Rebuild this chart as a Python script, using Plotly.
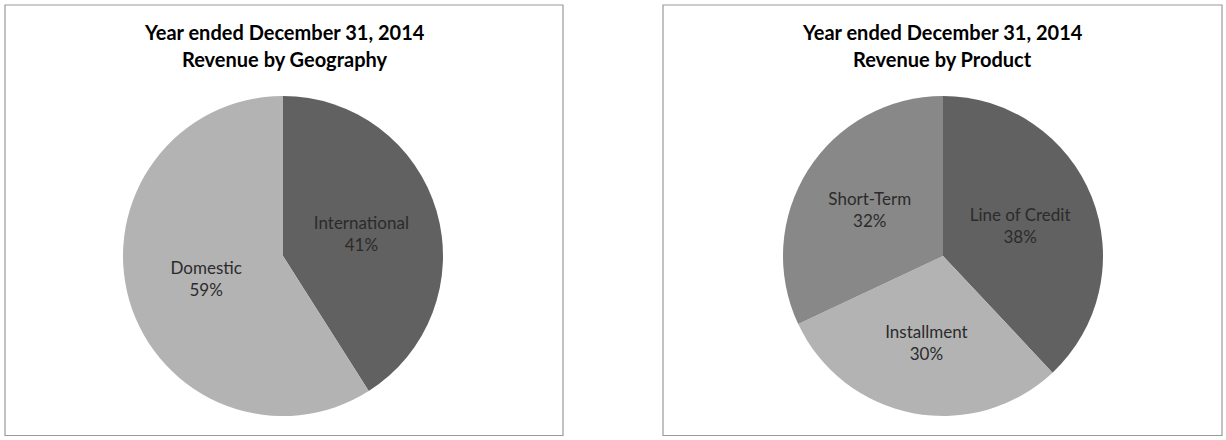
import plotly.graph_objects as go

geo_labels = ["International", "Domestic"]
geo_values = [41, 59]
geo_colors = ["#616161", "#b3b3b3"]

prod_labels = ["Line of Credit", "Installment", "Short-Term"]
prod_values = [38, 30, 32]
prod_colors = ["#616161", "#b3b3b3", "#888888"]

title_line1 = "Year ended December 31, 2014"
geo_title = "Revenue by Geography"
prod_title = "Revenue by Product"

W, H = 1226, 440

def px(x):
    return x / W

def py(y):
    return 1 - y / H

fig = go.Figure()
for labels, values, colors, (x0, x1) in [
    (geo_labels, geo_values, geo_colors, (123, 443)),
    (prod_labels, prod_values, prod_colors, (783, 1103)),
]:
    fig.add_trace(go.Pie(
        labels=labels, values=values, sort=False, direction="clockwise", rotation=0,
        marker=dict(colors=colors, line=dict(width=0)),
        texttemplate="%{label}<br>%{percent:.0%}", textposition="inside",
        insidetextorientation="horizontal",
        textfont=dict(family="Lato", size=17, color="#2b2b2b"),
        domain=dict(x=[px(x0), px(x1)], y=[py(416), py(96)]),
        showlegend=False, hoverinfo="label+percent",
    ))

for (x0, x1, sub) in [(5, 563, geo_title), (663, 1222, prod_title)]:
    fig.add_shape(type="rect", xref="paper", yref="paper",
                  x0=px(x0), x1=px(x1), y0=py(435.5), y1=py(5),
                  line=dict(color="#9a9a9a", width=1.2), fillcolor="rgba(0,0,0,0)")
    fig.add_annotation(xref="paper", yref="paper", x=px((x0 + x1) / 2), y=py(32),
                       text="<b>" + title_line1 + "</b>", showarrow=False,
                       font=dict(family="Lato", size=20, color="#000000"),
                       xanchor="center", yanchor="middle")
    fig.add_annotation(xref="paper", yref="paper", x=px((x0 + x1) / 2), y=py(59),
                       text="<b>" + sub + "</b>", showarrow=False,
                       font=dict(family="Lato", size=20, color="#000000"),
                       xanchor="center", yanchor="middle")

fig.update_layout(width=W, height=H, margin=dict(l=0, r=0, t=0, b=0),
                  paper_bgcolor="white", plot_bgcolor="white")
fig.write_html("out.html", config={"displayModeBar": False},
               post_script="document.body.style.margin='0';")
